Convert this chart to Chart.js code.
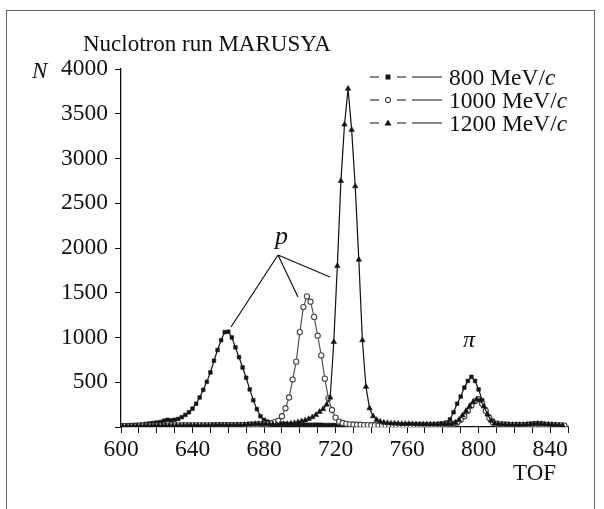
<!DOCTYPE html>
<html lang="en">
<head>
<meta charset="UTF-8">
<title>Nuclotron run MARUSYA</title>
<script src="https://cdn.jsdelivr.net/npm/chart.js"></script>
<style>
  body { margin: 0; background: #fff; }
  #wrap { position: relative; width: 604px; height: 509px; overflow: hidden;
          font-family: "Liberation Serif", "Times New Roman", serif; color: #111; }
  #frame { position: absolute; left: 6px; top: 10px; width: 587px; height: 530px; border: 1.5px solid #666; }
  .txt { position: absolute; font-size: 23px; line-height: 1; white-space: nowrap; }
</style>
</head>
<body>
<div id="wrap">
  <div id="frame"></div>
  <canvas id="tofChart" width="604" height="509" style="position:absolute;left:0;top:0"></canvas>
  <div class="txt" style="left:83px;top:32px">Nuclotron run MARUSYA</div>
  <div class="txt" style="left:32px;top:59px;font-style:italic">N</div>
  <div class="txt" style="left:449px;top:66px;font-size:23.5px">800 MeV/<i>c</i></div>
  <div class="txt" style="left:449px;top:89px;font-size:23.5px">1000 MeV/<i>c</i></div>
  <div class="txt" style="left:449px;top:112px;font-size:23.5px">1200 MeV/<i>c</i></div>
  <div class="txt" style="left:275px;top:223px;font-size:26px;font-style:italic">p</div>
  <div class="txt" style="left:463px;top:327px;font-size:24px;font-style:italic">π</div>
  <div class="txt" style="left:513px;top:461px">TOF</div>
</div>

<script>
// TOF bins (even / odd channels)
const tofEven = [
  600, 602, 604, 606, 608, 610, 612, 614, 616, 618,
  620, 622, 624, 626, 628, 630, 632, 634, 636, 638,
  640, 642, 644, 646, 648, 650, 652, 654, 656, 658,
  660, 662, 664, 666, 668, 670, 672, 674, 676, 678,
  680, 682, 684, 686, 688, 690, 692, 694, 696, 698,
  700, 702, 704, 706, 708, 710, 712, 714, 716, 718,
  720, 722, 724, 726, 728, 730, 732, 734, 736, 738,
  740, 742, 744, 746, 748, 750, 752, 754, 756, 758,
  760, 762, 764, 766, 768, 770, 772, 774, 776, 778,
  780, 782, 784, 786, 788, 790, 792, 794, 796, 798,
  800, 802, 804, 806, 808, 810, 812, 814, 816, 818,
  820, 822, 824, 826, 828, 830, 832, 834, 836, 838,
  840, 842, 844, 846, 848
];
const tofOdd = [
  601, 603, 605, 607, 609, 611, 613, 615, 617, 619,
  621, 623, 625, 627, 629, 631, 633, 635, 637, 639,
  641, 643, 645, 647, 649, 651, 653, 655, 657, 659,
  661, 663, 665, 667, 669, 671, 673, 675, 677, 679,
  681, 683, 685, 687, 689, 691, 693, 695, 697, 699,
  701, 703, 705, 707, 709, 711, 713, 715, 717, 719,
  721, 723, 725, 727, 729, 731, 733, 735, 737, 739,
  741, 743, 745, 747, 749, 751, 753, 755, 757, 759,
  761, 763, 765, 767, 769, 771, 773, 775, 777, 779,
  781, 783, 785, 787, 789, 791, 793, 795, 797, 799,
  801, 803, 805, 807, 809, 811, 813, 815, 817, 819,
  821, 823, 825, 827, 829, 831, 833, 835, 837, 839,
  841, 843, 845, 847
];

// counts, 800 MeV/c (on tofEven)
const n800 = [
  15, 15, 18, 20, 22, 25, 28, 35, 40, 45,
  50, 55, 70, 80, 75, 80, 90, 110, 135, 165,
  205, 260, 330, 415, 505, 610, 740, 860, 970, 1060,
  1065, 1000, 890, 780, 665, 550, 420, 300, 200, 120,
  80, 60, 50, 45, 40, 35, 35, 30, 30, 28,
  28, 25, 25, 25, 25, 25, 25, 22, 22, 22,
  22, 22, 20, 20, 20, 20, 20, 20, 20, 20,
  20, 20, 20, 20, 20, 20, 20, 20, 20, 20,
  20, 20, 22, 22, 22, 25, 25, 28, 30, 35,
  40, 50, 85, 165, 260, 340, 440, 515, 560, 515,
  420, 300, 195, 115, 70, 45, 35, 30, 28, 25,
  25, 25, 25, 28, 30, 35, 40, 40, 35, 30,
  25, 22, 20, 20, 18
];
// counts, 1000 MeV/c (on tofEven)
const n1000 = [
  10, 10, 12, 12, 12, 15, 15, 15, 15, 15,
  15, 15, 15, 15, 18, 18, 18, 18, 18, 18,
  18, 18, 18, 18, 18, 18, 20, 20, 20, 20,
  20, 20, 20, 20, 22, 22, 25, 25, 28, 30,
  30, 32, 40, 55, 70, 120, 210, 330, 530, 730,
  1060, 1340, 1460, 1400, 1230, 1020, 800, 540, 320, 190,
  105, 60, 45, 35, 30, 28, 25, 25, 22, 22,
  20, 20, 20, 20, 20, 20, 20, 20, 20, 20,
  20, 20, 20, 20, 20, 20, 22, 22, 22, 25,
  25, 28, 30, 35, 50, 80, 120, 180, 240, 290,
  310, 260, 180, 100, 50, 35, 30, 25, 25, 22,
  22, 22, 22, 22, 25, 25, 28, 28, 25, 22,
  20, 20, 18, 18, 15
];
// counts, 1200 MeV/c (on tofOdd)
const n1200 = [
  10, 10, 10, 12, 12, 12, 12, 15, 15, 15,
  15, 15, 15, 15, 15, 15, 15, 18, 18, 18,
  18, 18, 18, 18, 18, 20, 20, 20, 20, 20,
  20, 20, 22, 22, 25, 28, 30, 35, 35, 35,
  35, 32, 30, 30, 30, 35, 35, 40, 45, 55,
  65, 75, 90, 110, 135, 170, 200, 250, 330, 950,
  1800, 2750, 3380, 3780, 3320, 2690, 1870, 970, 450, 210,
  120, 80, 60, 50, 45, 40, 40, 38, 35, 35,
  35, 35, 32, 32, 30, 30, 30, 30, 30, 32,
  32, 35, 35, 50, 80, 130, 180, 230, 280, 310,
  300, 230, 140, 70, 40, 35, 30, 28, 25, 25,
  25, 25, 25, 28, 30, 35, 38, 35, 30, 28,
  25, 22, 20, 18
];

const xTicks = [600, 640, 680, 720, 760, 800, 840];
const yTicks = [500, 1000, 1500, 2000, 2500, 3000, 3500, 4000];

function toXY(xs, ys) {
  return xs.map((x, i) => ({ x: x, y: ys[i] }));
}

// legend samples and the "p" pointer lines
const extras = {
  id: 'extras',
  afterDraw(chart) {
    const ctx = chart.ctx;
    ctx.save();
    ctx.strokeStyle = '#111';
    ctx.lineWidth = 1.2;
    ctx.beginPath();
    [[231, 327], [298, 297], [330, 277]].forEach(([x, y]) => {
      ctx.moveTo(278, 255);
      ctx.lineTo(x, y);
    });
    ctx.stroke();

    const rows = [77, 100, 123];
    rows.forEach((y, i) => {
      ctx.strokeStyle = '#111';
      ctx.lineWidth = 1.2;
      ctx.beginPath();
      ctx.moveTo(370, y); ctx.lineTo(379, y);
      ctx.moveTo(397, y); ctx.lineTo(406, y);
      ctx.moveTo(412, y); ctx.lineTo(442, y);
      ctx.stroke();
      ctx.fillStyle = '#111';
      if (i === 0) {
        ctx.fillRect(385.5, y - 2.5, 5, 5);
      } else if (i === 1) {
        ctx.fillStyle = '#fff';
        ctx.lineWidth = 1;
        ctx.beginPath();
        ctx.arc(388, y, 2.6, 0, Math.PI * 2);
        ctx.fill();
        ctx.stroke();
      } else {
        ctx.beginPath();
        ctx.moveTo(388, y - 3.5);
        ctx.lineTo(391.5, y + 2.5);
        ctx.lineTo(384.5, y + 2.5);
        ctx.closePath();
        ctx.fill();
      }
    });
    ctx.restore();
  }
};

const tickFont = { family: 'Liberation Serif', size: 23.5 };

const chart = new Chart(document.getElementById('tofChart'), {
  type: 'line',
  data: {
    datasets: [
      {
        label: '1200 MeV/c',
        data: toXY(tofOdd, n1200),
        borderColor: '#111',
        borderWidth: 1.2,
        pointStyle: 'triangle',
        pointRadius: 3.2,
        pointBackgroundColor: '#111',
        pointBorderColor: '#222',
        pointBorderWidth: 0.6
      },
      {
        label: '1000 MeV/c',
        data: toXY(tofEven, n1000),
        borderColor: '#555',
        borderWidth: 1.2,
        pointStyle: 'circle',
        pointRadius: 2.6,
        pointBackgroundColor: '#fff',
        pointBorderColor: '#444',
        pointBorderWidth: 1.1
      },
      {
        label: '800 MeV/c',
        data: toXY(tofEven, n800),
        borderColor: '#111',
        borderWidth: 1.2,
        pointStyle: 'rect',
        pointRadius: 2.6,
        pointBackgroundColor: '#111',
        pointBorderColor: '#222',
        pointBorderWidth: 0.6
      }
    ]
  },
  options: {
    responsive: false,
    animation: false,
    layout: { padding: { top: 69, right: 36, left: 0, bottom: 0 }, autoPadding: false },
    plugins: { legend: { display: false }, tooltip: { enabled: false } },
    elements: { line: { tension: 0 } },
    scales: {
      x: {
        type: 'linear',
        min: 600,
        max: 850,
        afterFit(s) { s.height = 82; },
        ticks: {
          stepSize: 10,
          autoSkip: false,
          maxRotation: 0,
          padding: 3,
          color: '#111',
          font: tickFont,
          callback: v => (xTicks.includes(Math.round(v)) ? Math.round(v) : '')
        },
        grid: { drawOnChartArea: false, tickLength: 6, tickColor: '#111', tickWidth: 1 },
        border: { color: '#111', width: 1.3 }
      },
      y: {
        min: 0,
        max: 4000,
        afterFit(s) { s.width = 121; },
        ticks: {
          stepSize: 250,
          padding: 7,
          color: '#111',
          font: tickFont,
          callback: v => (yTicks.includes(Math.round(v)) ? Math.round(v) : '')
        },
        grid: { drawOnChartArea: false, tickLength: 6, tickColor: '#111', tickWidth: 1 },
        border: { color: '#111', width: 1.3 }
      }
    }
  },
  plugins: [extras]
});
</script>
</body>
</html>
